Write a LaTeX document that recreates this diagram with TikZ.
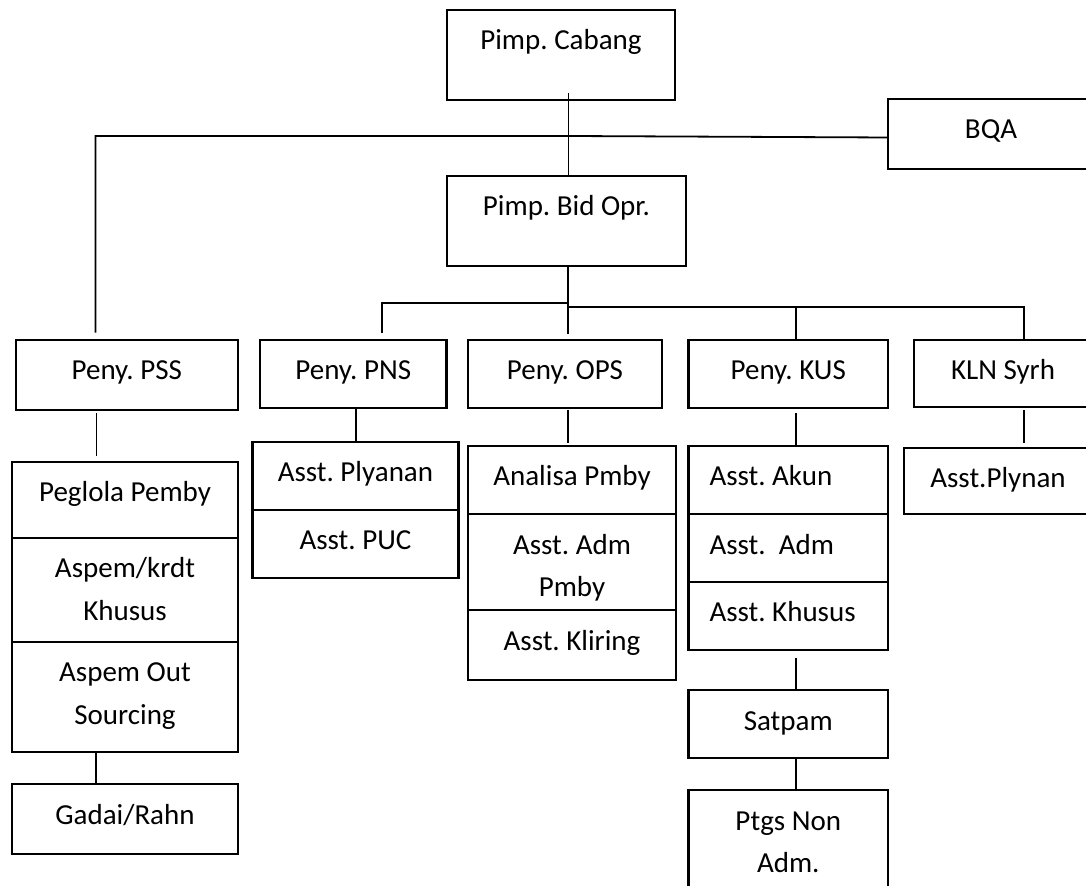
\documentclass[tikz,border=0pt]{standalone}
\usepackage{fontspec}
\setmainfont{Carlito}
\frenchspacing
\newcommand\mybox[7][\centering]{%
  \pgfmathsetlengthmacro\bw{(#5-#3)*0.5pt}%
  \pgfmathsetlengthmacro\bh{(#6-#4)*0.5pt}%
  \node[orgbox] (#2) at (#3,#4) {\parbox[c][\bh][t]{\bw}{#1\frenchspacing\rule{0pt}{20pt}#7}};}
\tikzset{
  orgbox/.style={draw=black, line width=1.15pt, anchor=north west, inner sep=0pt, outer sep=0pt,
    font=\fontsize{14.5}{21.3}\selectfont},
  link/.style={draw=black, line width=0.9pt}
}
\begin{document}
\begin{tikzpicture}[x=0.5pt, y=-0.5pt]
\useasboundingbox (0,0) rectangle (1086,886);
\clip (0,0) rectangle (1086,886);
% level 0 / 1
\mybox{cabang}{447}{10}{675}{100}{Pimp. Cabang}
\mybox{bqa}{888}{99}{1094}{169}{BQA}
\mybox{bid}{447}{176}{686}{266}{Pimp. Bid Opr.}
% level 2
\mybox{pss}{15.8}{340}{237.8}{410}{Peny. PSS}
\mybox{pns}{260}{340}{446.5}{408}{Peny. PNS}
\mybox{ops}{468}{340}{662}{408}{Peny. OPS}
\mybox{kus}{688.5}{340}{888}{408}{Peny. KUS}
\mybox{kln}{914}{340}{1092}{407}{KLN Syrh}
% PSS stack
\mybox{pssa}{12}{462}{238}{537.7}{Peglola Pemby}
\mybox{pssb}{12}{537.7}{238}{642}{Aspem/krdt\\Khusus}
\mybox{pssc}{12}{642}{238}{752}{Aspem Out\\Sourcing}
\mybox{gadai}{12}{784}{238}{854}{Gadai/Rahn}
% PNS stack
\mybox{pnsa}{252.5}{441.7}{458.4}{510}{Asst. Plyanan}
\mybox{pnsb}{252.5}{510}{458.4}{577.7}{Asst. PUC}
% OPS stack
\mybox{opsa}{468}{445.7}{676}{514.3}{Analisa Pmby}
\mybox{opsb}{468}{514.3}{676}{610}{Asst. Adm\\Pmby}
\mybox{opsc}{468}{610}{676}{680}{Asst. Kliring}
% KUS stack
\mybox[\raggedright\leftskip=10.5pt]{kusa}{688.5}{445.7}{888}{514.3}{Asst. Akun}
\mybox[\raggedright\leftskip=10.5pt]{kusb}{688.5}{514.3}{888}{582}{Asst.\ \ Adm}
\mybox[\raggedright\leftskip=10.5pt]{kusc}{688.5}{582}{888}{650}{Asst. Khusus}
\mybox{satpam}{688.5}{690}{888}{758}{Satpam}
\mybox{ptgs}{688.5}{790}{888}{900}{Ptgs Non\\Adm.}
% KLN
\mybox{klna}{904}{447.7}{1092}{514}{Asst.Plynan}
% coordinates for connector ends
\coordinate (trunk) at (568.5,93);
\coordinate (busL) at (95.5,136);
\coordinate (busM) at (568.5,136);
\coordinate (busR) at (888,137.5);
\coordinate (pssTop) at (95.5,332.7);
\coordinate (bidDown) at (568,334);
\coordinate (opsJ) at (568,302.7);
\coordinate (pnsJ) at (382,302.7);
\coordinate (pnsTop) at (382,332.7);
\coordinate (rJ) at (568,307);
\coordinate (kusJ) at (796,307);
\coordinate (klnJ) at (1024,307);
\coordinate (pssD1) at (96.5,413);
\coordinate (pssD2) at (96.5,456);
\coordinate (opsD1) at (568,410);
\coordinate (opsD2) at (568,442.7);
\coordinate (kusD1) at (796,413);
\coordinate (kusD2) at (796,445);
\coordinate (klnD1) at (1024,410);
\coordinate (klnD2) at (1024,442.7);
\coordinate (kusS1) at (795.7,657.7);
% connectors
\draw[link] (trunk) -- (trunk |- bid.north);
\draw[link] (pssTop) -- (busL) -- (busM) -- (busR) -- (bqa.west |- busR);
\draw[link] (bid.south -| bidDown) -- (bidDown);
\draw[link] (pnsTop) -- (pnsJ) -- (opsJ);
\draw[link] (rJ) -- (klnJ) -- (klnJ |- kln.north);
\draw[link] (kusJ) -- (kusJ |- kus.north);
\draw[link] (pssD1) -- (pssD2);
\draw[link] (pns.south -| 356,0) -- (pnsa.north -| 356,0);
\draw[link] (opsD1) -- (opsD2);
\draw[link] (kusD1) -- (kusD2);
\draw[link] (klnD1) -- (klnD2);
\draw[link] (pssc.south -| 95.6,0) -- (gadai.north -| 95.6,0);
\draw[link] (kusS1) -- (kusS1 |- satpam.north);
\draw[link] (satpam.south -| 795.7,0) -- (ptgs.north -| 795.7,0);
\end{tikzpicture}
\end{document}
